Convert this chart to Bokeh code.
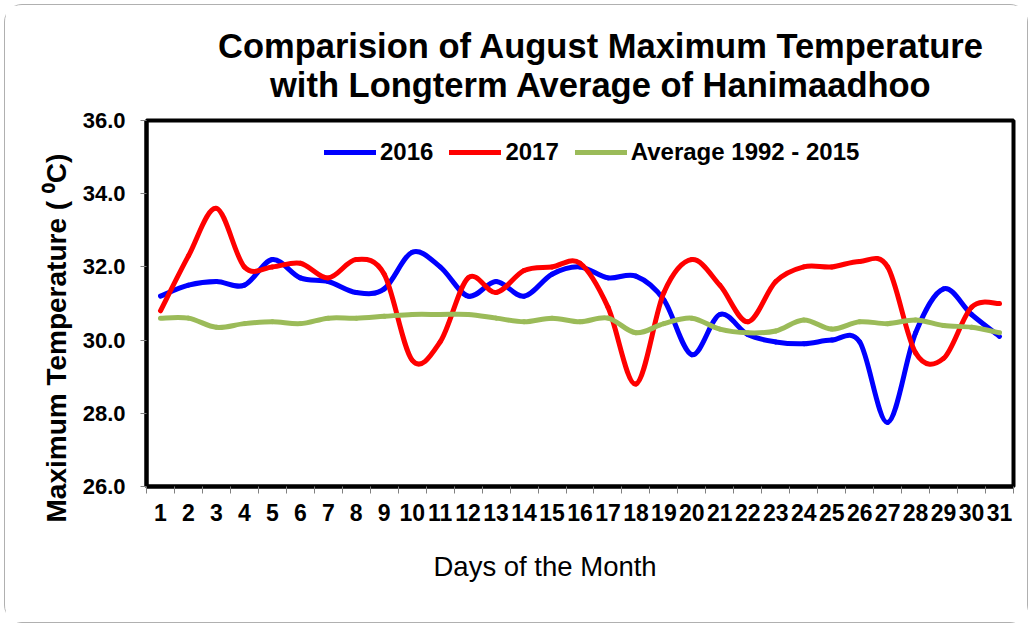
import numpy as np
from bokeh.plotting import figure
from bokeh.models import (ColumnDataSource, FixedTicker, NumeralTickFormatter,
                          Title, Legend, LegendItem, Range1d)
from bokeh.embed import file_html
from bokeh.resources import INLINE

# ---------------- data ----------------
days = list(range(1, 32))
t2016 = [31.2, 31.5, 31.6, 31.5, 32.2, 31.7, 31.6, 31.3, 31.4, 32.4,
         32.0, 31.2, 31.6, 31.2, 31.8, 32.0, 31.7, 31.75, 31.1, 29.6,
         30.7, 30.15, 29.95, 29.9, 30.0, 29.95, 27.75, 30.2, 31.4, 30.7, 30.1]
t2017 = [30.8, 32.3, 33.6, 32.0, 32.0, 32.1, 31.7, 32.2, 31.8, 29.45,
         29.95, 31.7, 31.3, 31.9, 32.0, 32.1, 30.9, 28.8, 31.3, 32.2,
         31.5, 30.5, 31.6, 32.0, 32.0, 32.15, 32.0, 29.65, 29.5, 30.9, 31.0]
avg_1992_2015 = [30.6, 30.6, 30.35, 30.45, 30.5, 30.45, 30.6, 30.6, 30.65, 30.7,
                 30.7, 30.7, 30.6, 30.5, 30.6, 30.5, 30.6, 30.2, 30.45, 30.6,
                 30.3, 30.2, 30.25, 30.55, 30.3, 30.5, 30.45, 30.55, 30.4, 30.35, 30.2]
y_ticks = [26, 28, 30, 32, 34, 36]
series_names = ["2016", "2017", "Average 1992 - 2015"]
series_colors = ["#0000FF", "#FF0000", "#9BBB59"]
title_lines = ["Comparision of August Maximum Temperature",
               "with Longterm Average of Hanimaadhoo"]
y_title = "Maximum Temperature ( \u2070C)"
x_title = "Days of the Month"

FONT = "Liberation Sans"


def smooth_source(x, y):
    """Bezier segments through the data points (Excel-like smoothed line)."""
    x = np.asarray(x, float)
    y = np.asarray(y, float)
    n = len(x)
    xp = np.concatenate([[x[0]], x, [x[-1]]])
    yp = np.concatenate([[y[0]], y, [y[-1]]])
    cx0 = x[:-1] + (xp[2:n + 1] - xp[0:n - 1]) / 6.0
    cy0 = y[:-1] + (yp[2:n + 1] - yp[0:n - 1]) / 6.0
    cx1 = x[1:] - (xp[3:n + 2] - xp[1:n]) / 6.0
    cy1 = y[1:] - (yp[3:n + 2] - yp[1:n]) / 6.0
    return ColumnDataSource(dict(x0=x[:-1], y0=y[:-1], x1=x[1:], y1=y[1:],
                                 cx0=cx0, cy0=cy0, cx1=cx1, cy1=cy1))


p = figure(width=1024, height=619, output_backend="svg", toolbar_location=None,
           x_range=Range1d(0.5, 31.5), y_range=Range1d(26, 36),
           min_border_left=141, min_border_right=16,
           min_border_top=115, min_border_bottom=138)
p.styles = {"border": "1px solid #b0b0b0", "border-radius": "18px",
            "margin-left": "4px", "margin-top": "4px"}
p.background_fill_color = "white"
p.border_fill_color = "white"
p.outline_line_color = "black"
p.outline_line_width = 4
p.xgrid.visible = False
p.ygrid.visible = False

# y axis
p.yaxis.ticker = FixedTicker(ticks=y_ticks)
p.yaxis.formatter = NumeralTickFormatter(format="0.0")
p.yaxis.major_label_text_font = FONT
p.yaxis.major_label_text_font_size = "22px"
p.yaxis.major_label_text_font_style = "bold"
p.yaxis.major_label_text_color = "black"
p.yaxis.major_tick_out = 6
p.yaxis.major_tick_in = 0
p.yaxis.major_tick_line_color = "#808080"
p.yaxis.minor_tick_line_color = None
p.yaxis.axis_line_color = "black"
p.yaxis.axis_line_width = 4
p.yaxis.major_label_standoff = 15

# x axis
p.xaxis.ticker = FixedTicker(ticks=days, minor_ticks=[d - 0.5 for d in days] + [31.5])
p.xaxis.major_label_text_font = FONT
p.xaxis.major_label_text_font_size = "23px"
p.xaxis.major_label_text_font_style = "bold"
p.xaxis.major_label_text_color = "black"
p.xaxis.major_tick_line_color = None
p.xaxis.major_tick_out = 7
p.xaxis.major_tick_in = 0
p.xaxis.minor_tick_out = 7
p.xaxis.minor_tick_in = 0
p.xaxis.minor_tick_line_color = "#808080"
p.xaxis.axis_line_color = "black"
p.xaxis.axis_line_width = 4
p.xaxis.major_label_standoff = 10

renderers = []
for vals, col in zip([t2016, t2017, avg_1992_2015], series_colors):
    r = p.bezier(x0="x0", y0="y0", x1="x1", y1="y1", cx0="cx0", cy0="cy0",
                 cx1="cx1", cy1="cy1", source=smooth_source(days, vals),
                 line_color=col, line_width=5, line_cap="round")
    renderers.append(r)

legend = Legend(items=[LegendItem(label=n, renderers=[r]) for n, r in zip(series_names, renderers)],
                orientation="horizontal", location=(178, 320),
                label_text_font=FONT, label_text_font_size="24px",
                label_text_font_style="bold", label_text_color="black",
                glyph_width=52, glyph_height=24, label_standoff=4, spacing=16,
                padding=4, margin=0, border_line_color=None,
                background_fill_alpha=0)
p.add_layout(legend)

# chart title: two centred lines (second line closest to the frame)
title_style = dict(align="left", vertical_align="bottom", text_font=FONT,
                   text_font_size="34.5px", text_font_style="bold", text_color="black")
p.add_layout(Title(text=title_lines[1], offset=123.5, standoff=34, **title_style), "above")
try:
    t_top = Title(text=title_lines[0], offset=71.5, standoff=-36, **title_style)
except Exception:
    t_top = Title(text=title_lines[0], offset=71.5, standoff=0, **title_style)
p.add_layout(t_top, "above")

# axis titles
p.add_layout(Title(text=y_title, align="left", offset=-36, vertical_align="bottom",
                   standoff=16, text_font=FONT, text_font_size="28px",
                   text_font_style="bold", text_color="black"), "left")
p.add_layout(Title(text=x_title, align="left", offset=287, vertical_align="top",
                   standoff=54, text_font=FONT, text_font_size="27.5px",
                   text_font_style="normal", text_color="black"), "below")

open("out.html", "w").write(file_html(p, INLINE))
